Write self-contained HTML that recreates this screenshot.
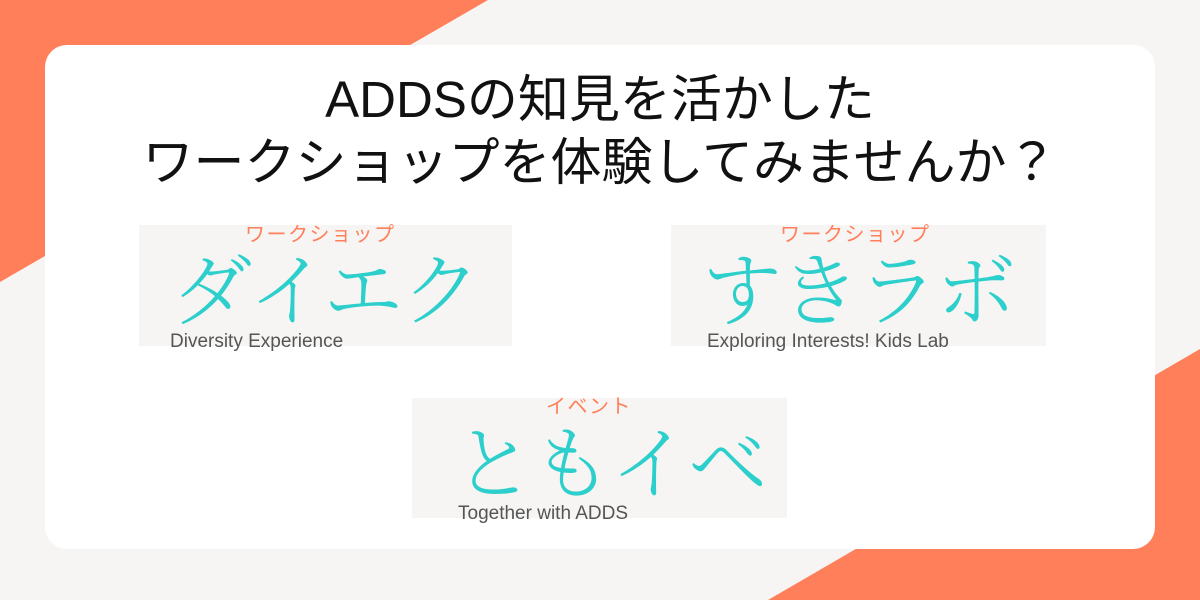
<!DOCTYPE html>
<html><head><meta charset="utf-8"><style>
body{margin:0;width:1200px;height:600px;overflow:hidden;background:#f6f5f3;position:relative;font-family:"Liberation Sans","Noto Sans CJK JP",sans-serif}
.card{position:absolute;left:45px;top:45px;width:1110px;height:504px;background:#fff;border-radius:22px}
.t{position:absolute;left:0;width:1200px;text-align:center;font-size:51px;color:#111;font-family:"Liberation Sans","Noto Sans CJK JP",sans-serif;line-height:1}
.box{position:absolute;background:#f6f5f3;height:121px}
.lab{position:absolute;font-size:20px;color:#ff7f5a;line-height:1;letter-spacing:1.5px}
.big{position:absolute;font-family:"Noto Serif CJK JP","Noto Serif CJK SC",serif;font-weight:300;font-size:80px;color:#2ccfcb;line-height:1;white-space:nowrap}
.en{position:absolute;font-size:19px;color:#555;line-height:1;white-space:nowrap}
</style></head><body>
<svg width="1200" height="600" style="position:absolute;left:0;top:0">
<polygon points="0,0 488,0 0,282" fill="#ff7f5a"/>
<polygon points="1200,349 1200,600 768,600" fill="#ff7f5a"/>
</svg>
<div class="card"></div>
<div class="t" style="top:74px">ADDSの知見を活かした</div>
<div class="t" style="top:137px">ワークショップを体験してみませんか？</div>

<div class="box" style="left:139px;top:225px;width:373px"></div>
<div class="lab" style="left:245px;top:225px">ワークショップ</div>
<div class="big" style="left:172px;top:245px;letter-spacing:-2px">ダイエク</div>
<div class="en" style="left:170px;top:332px">Diversity Experience</div>

<div class="box" style="left:671px;top:225px;width:375px"></div>
<div class="lab" style="left:780px;top:225px">ワークショップ</div>
<div class="big" style="left:702px;top:245px;letter-spacing:-2px">すきラボ</div>
<div class="en" style="left:707px;top:332px">Exploring Interests! Kids Lab</div>

<div class="box" style="left:412px;top:398px;width:375px;height:120px"></div>
<div class="lab" style="left:546px;top:397px">イベント</div>
<div class="big" style="left:454px;top:418px;letter-spacing:-2px">ともイベ</div>
<div class="en" style="left:458px;top:504px">Together with ADDS</div>
</body></html>
